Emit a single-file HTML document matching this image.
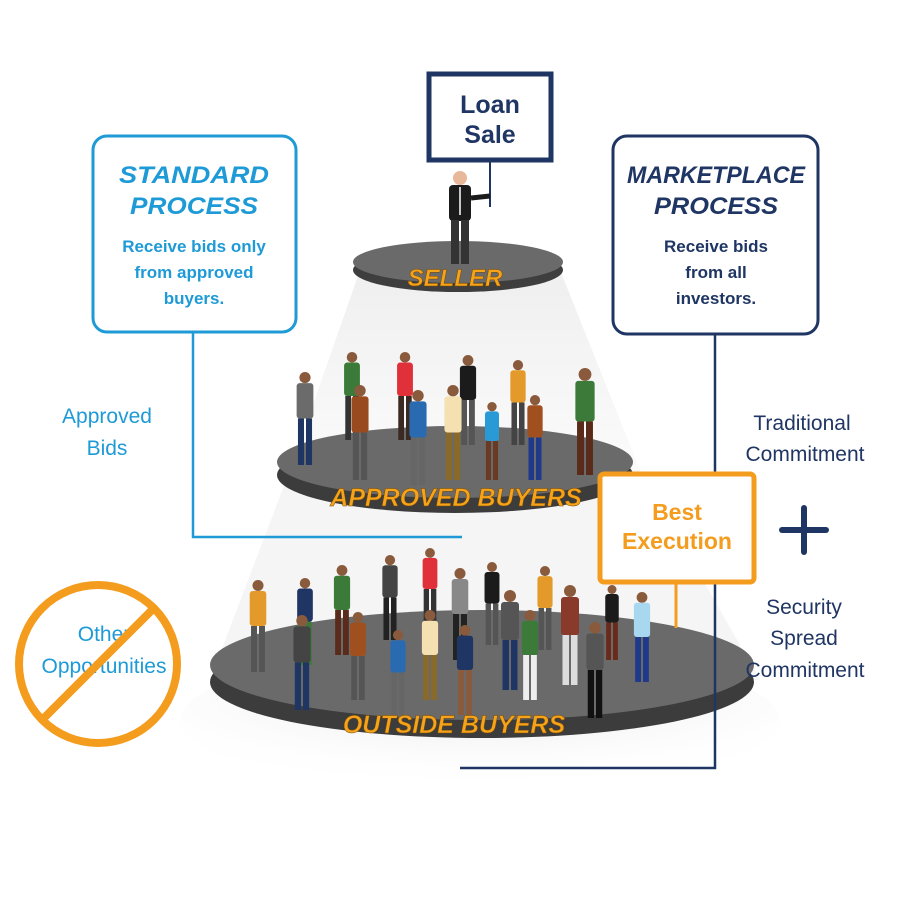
<!DOCTYPE html>
<html><head><meta charset="utf-8"><style>
html,body{margin:0;padding:0;background:#fff}
svg{display:block}
.cap{font-family:"Liberation Sans",sans-serif;font-weight:bold;font-style:italic}
.t{font-family:"Liberation Sans",sans-serif}
</style></head><body>
<svg id="s" width="900" height="920" viewBox="0 0 900 920" xmlns="http://www.w3.org/2000/svg">
<defs>
<radialGradient id="sh" cx="0.5" cy="0.3" r="0.7">
<stop offset="0" stop-color="#e2e2e2"/><stop offset="1" stop-color="#ffffff" stop-opacity="0"/>
</radialGradient>
<linearGradient id="cone" x1="0" y1="0" x2="0" y2="1">
<stop offset="0" stop-color="#efefef"/><stop offset="1" stop-color="#fbfbfb"/>
</linearGradient>
</defs>
<polygon points="360,270 560,270 640,470 290,470" fill="url(#cone)"/>
<polygon points="290,470 640,470 760,680 210,680" fill="#f5f5f5"/>
<ellipse cx="480" cy="720" rx="300" ry="70" fill="url(#sh)"/>
<ellipse cx="458" cy="270" rx="105" ry="22" fill="#3e3e3e"/>
<ellipse cx="458" cy="262" rx="105" ry="21" fill="#6a6a6a"/>
<ellipse cx="455" cy="475" rx="178" ry="38" fill="#3c3c3c"/>
<ellipse cx="455" cy="462" rx="178" ry="36" fill="#6a6a6a"/>
<ellipse cx="482" cy="682" rx="272" ry="56" fill="#3c3c3c"/>
<ellipse cx="482" cy="665" rx="272" ry="55" fill="#6a6a6a"/>
<g id="people"></g>
<polyline points="193,332 193,537 462,537" fill="none" stroke="#1e9ad6" stroke-width="2.5"/>
<polyline points="715,335 715,768 460,768" fill="none" stroke="#1f3563" stroke-width="2.5"/>
<rect x="93" y="136" width="203" height="196" rx="14" fill="#fff" stroke="#1e9ad6" stroke-width="3"/>
<text x="194" y="183" text-anchor="middle" class="cap" font-size="24" fill="#1e9ad6" textLength="150" lengthAdjust="spacingAndGlyphs">STANDARD</text>
<text x="194" y="214" text-anchor="middle" class="cap" font-size="24" fill="#1e9ad6" textLength="128" lengthAdjust="spacingAndGlyphs">PROCESS</text>
<g class="t" font-size="17" font-weight="bold" fill="#1e9ad6" text-anchor="middle">
<text x="194" y="252">Receive bids only</text><text x="194" y="278">from approved</text><text x="194" y="304">buyers.</text></g>
<rect x="613" y="136" width="205" height="198" rx="14" fill="#fff" stroke="#1f3563" stroke-width="3"/>
<text x="716" y="183" text-anchor="middle" class="cap" font-size="24" fill="#1f3563" textLength="178" lengthAdjust="spacingAndGlyphs">MARKETPLACE</text>
<text x="716" y="214" text-anchor="middle" class="cap" font-size="24" fill="#1f3563" textLength="124" lengthAdjust="spacingAndGlyphs">PROCESS</text>
<g class="t" font-size="17" font-weight="bold" fill="#1f3563" text-anchor="middle">
<text x="716" y="252">Receive bids</text><text x="716" y="278">from all</text><text x="716" y="304">investors.</text></g>
<line x1="490" y1="160" x2="490" y2="207" stroke="#1f3563" stroke-width="2"/>
<rect x="429" y="74" width="122" height="86" fill="#fff" stroke="#1f3563" stroke-width="5"/>
<g class="t" font-size="25" font-weight="bold" fill="#1f3563" text-anchor="middle">
<text x="490" y="113">Loan</text><text x="490" y="143">Sale</text></g>
<circle cx="460" cy="178" r="7" fill="#e8b89a"/>
<rect x="449" y="185" width="22" height="36" rx="4" fill="#1b1b1b"/>
<line x1="471" y1="198" x2="490" y2="196" stroke="#1b1b1b" stroke-width="5"/>
<rect x="451" y="220" width="8" height="44" fill="#333"/><rect x="461" y="220" width="8" height="44" fill="#333"/>
<line x1="460" y1="187" x2="460" y2="215" stroke="#fff" stroke-width="1.5"/>
<text x="455" y="286" text-anchor="middle" class="cap" font-size="24" fill="#f5a31b" stroke="#7a4a00" stroke-width="0.5">SELLER</text>
<text x="456" y="506" text-anchor="middle" class="cap" font-size="25" fill="#f5a31b" stroke="#7a4a00" stroke-width="0.5">APPROVED BUYERS</text>
<text x="454" y="733" text-anchor="middle" class="cap" font-size="25" fill="#f5a31b" stroke="#7a4a00" stroke-width="0.5">OUTSIDE BUYERS</text>
<line x1="676" y1="583" x2="676" y2="628" stroke="#f39c1e" stroke-width="3"/>
<rect x="600" y="474" width="154" height="108" rx="4" fill="#fff" stroke="#f39c1e" stroke-width="5"/>
<g class="t" font-size="23" font-weight="bold" fill="#f39c1e" text-anchor="middle">
<text x="677" y="520">Best</text><text x="677" y="549">Execution</text></g>
<rect x="779" y="527" width="50" height="6" rx="3" fill="#1f3563"/>
<rect x="801" y="505" width="6" height="50" rx="3" fill="#1f3563"/>
<g class="t" font-size="21" fill="#1f3563" text-anchor="middle">
<text x="802" y="430">Traditional</text><text x="805" y="461">Commitment</text>
<text x="804" y="614">Security</text><text x="804" y="645">Spread</text><text x="805" y="677">Commitment</text></g>
<g class="t" font-size="21" fill="#1e9ad6" text-anchor="middle">
<text x="107" y="423">Approved</text><text x="107" y="455">Bids</text></g>
<g class="t" font-size="21" fill="#1e9ad6" text-anchor="middle">
<text x="104" y="641">Other</text><text x="104" y="673">Opportunities</text></g>
<circle cx="98" cy="664" r="79" fill="none" stroke="#f39c1e" stroke-width="8"/>
<line x1="155" y1="607" x2="41" y2="721" stroke="#f39c1e" stroke-width="8"/>
</svg>
<script>
var g=document.getElementById('people'),h='';
function p(x,top,foot,c,l){var H=foot-top,hr=H*0.06;var ty=top+hr*2,th=H*0.38,lw=H*0.065;
h+='<circle cx="'+x+'" cy="'+(top+hr)+'" r="'+hr+'" fill="#8a5a3c"/>';
h+='<rect x="'+(x-H*0.09)+'" y="'+ty+'" width="'+(H*0.18)+'" height="'+th+'" rx="3" fill="'+c+'"/>';
h+='<rect x="'+(x-lw-1)+'" y="'+(ty+th)+'" width="'+lw+'" height="'+(foot-ty-th)+'" fill="'+l+'"/>';
h+='<rect x="'+(x+1)+'" y="'+(ty+th)+'" width="'+lw+'" height="'+(foot-ty-th)+'" fill="'+l+'"/>';}
var A=[[305,372,465,'#6b6b6b','#1f3563'],[352,352,440,'#3c7a3a','#333'],[405,352,440,'#e0303a','#3a2a22'],[468,355,445,'#1b1b1b','#555'],[518,360,445,'#e39a2a','#444'],[585,368,475,'#3c7a3a','#5a2a1a'],[360,385,480,'#9a4a1f','#555'],[418,390,485,'#2a6ab0','#666'],[453,385,480,'#f4e0b0','#8a6a2a'],[492,402,480,'#2a9ad6','#6a3a22'],[535,395,480,'#a0501f','#1f3a8a']];
A.forEach(function(a){p.apply(null,a)});
var B=[[258,580,672,'#e39a2a','#555'],[305,578,665,'#1f3563','#3c7a3a'],[342,565,655,'#3c7a3a','#5a2a1a'],[390,555,640,'#444','#222'],[430,548,630,'#e0303a','#333'],[460,568,660,'#888','#222'],[492,562,645,'#1b1b1b','#555'],[545,566,650,'#e39a2a','#555'],[570,585,685,'#8a3a2a','#ddd'],[612,585,660,'#1b1b1b','#6a2a1a'],[642,592,682,'#a8d8f0','#1f3a8a'],[302,615,710,'#444','#1f3563'],[358,612,700,'#a0501f','#555'],[398,630,715,'#2a6ab0','#666'],[430,610,700,'#f4e0b0','#8a6a2a'],[465,625,715,'#1f3563','#8a5a3c'],[510,590,690,'#555','#1f3563'],[530,610,700,'#3c7a3a','#eee'],[595,622,718,'#555','#111']];
B.forEach(function(a){p.apply(null,a)});
g.innerHTML=h;
</script>
</body></html>
